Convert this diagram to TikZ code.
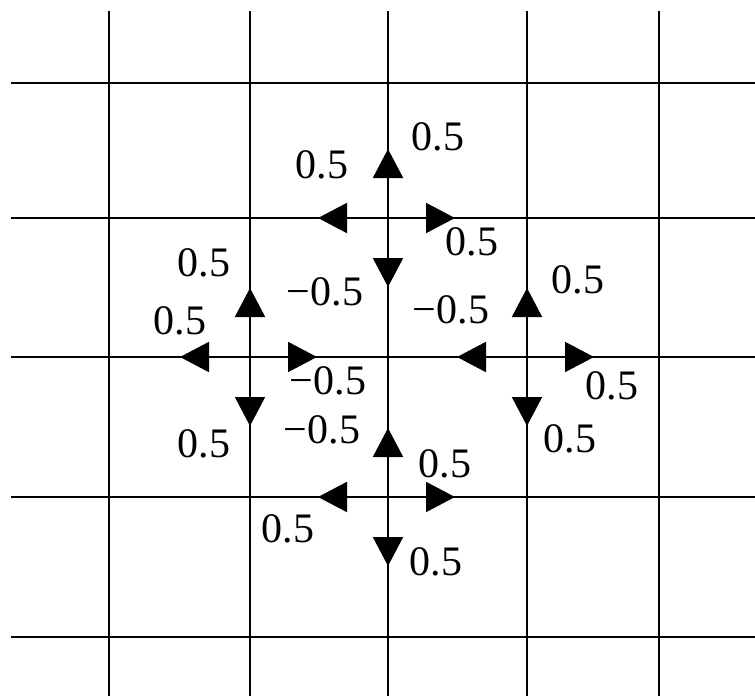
\documentclass[tikz,border=0pt]{standalone}
\usepackage{fontspec}
\setmainfont{Liberation Serif}
\usetikzlibrary{arrows.meta}
\begin{document}
\begin{tikzpicture}[x=1pt,y=-1pt,
  gridline/.style={line width=1.8pt, black},
  flux/.style={line width=2pt, -{Triangle[length=29pt,width=30pt]}},
  val/.style={inner sep=0pt, font=\fontsize{42}{48}\selectfont}]
\useasboundingbox (0,0) rectangle (755,696);
% grid
\foreach \x in {109,250,388,527,659} \draw[gridline] (\x,11) -- (\x,696);
\foreach \y in {83,218,357,497,637} \draw[gridline] (11,\y) -- (755,\y);
% grid points with fluxes
\coordinate (T) at (388,218);
\coordinate (L) at (250,357);
\coordinate (R) at (527,357);
\coordinate (B) at (388,497);
% arrow ends
\foreach \n/\x/\y in {T/388/218, L/250/357, R/527/357, B/388/497} {
  \coordinate (\n u) at (\x,\y-69);
  \coordinate (\n d) at (\x,\y+69);
  \coordinate (\n l) at (\x-70,\y);
  \coordinate (\n r) at (\x+67,\y);
}
\foreach \n in {T,L,R,B} {
  \draw[flux] (\n) -- (\n u);
  \draw[flux] (\n) -- (\n d);
  \draw[flux] (\n) -- (\n l);
  \draw[flux] (\n) -- (\n r);
}
% labels: top node
\node[val] (t1) at (438,137) {0.5};
\node[val] (t2) at (322,165) {0.5};
\node[val] (t3) at (472,242) {0.5};
\node[val] (t4) at (325,292) {−0.5};
% labels: left node
\node[val] (l1) at (204,263) {0.5};
\node[val] (l2) at (180,321) {0.5};
\node[val] (l3) at (328,381) {−0.5};
\node[val] (l4) at (204,444) {0.5};
% labels: right node
\node[val] (r1) at (578,280) {0.5};
\node[val] (r2) at (451,310) {−0.5};
\node[val] (r3) at (612,386) {0.5};
\node[val] (r4) at (570,439) {0.5};
% labels: bottom node
\node[val] (b1) at (322,430) {−0.5};
\node[val] (b2) at (445,464) {0.5};
\node[val] (b3) at (288,529) {0.5};
\node[val] (b4) at (436,562) {0.5};
\end{tikzpicture}
\end{document}
